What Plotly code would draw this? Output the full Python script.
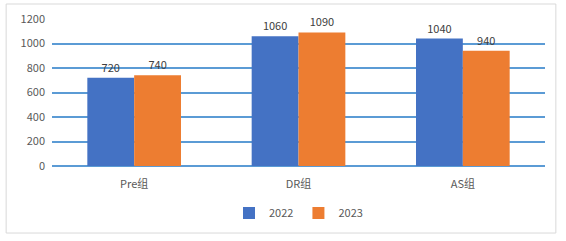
import plotly.graph_objects as go

categories = ["Pre组", "DR组", "AS组"]
series_names = ["2022", "2023"]
values_2022 = [720, 1060, 1040]
values_2023 = [740, 1090, 940]
y_ticks = [0, 200, 400, 600, 800, 1000, 1200]

colors = ["#4472C4", "#ED7D31"]
font_family = "Noto Sans CJK SC, Noto Sans, sans-serif"

fig = go.Figure()
for name, vals, col in zip(series_names, [values_2022, values_2023], colors):
    fig.add_trace(go.Bar(
        x=categories, y=vals, name=name, marker_color=col,
        marker_line_width=0,
        text=[str(v) for v in vals], textposition="outside",
        textfont=dict(size=11, color="#404040", family=font_family),
        cliponaxis=False,
    ))

fig.update_layout(
    width=566, height=241,
    margin=dict(l=52, r=21, t=19, b=75, autoexpand=False),
    paper_bgcolor="white", plot_bgcolor="white",
    barmode="group", bargap=0.43, bargroupgap=0,
    font=dict(family=font_family, size=11, color="#595959"),
    showlegend=True,
    legend=dict(orientation="h", x=0.5, xanchor="center",
                yref="container", y=0.116, yanchor="middle",
                font=dict(size=11, color="#595959"), itemwidth=30,
                traceorder="normal"),
    xaxis=dict(showgrid=False, showline=False, ticks="outside", ticklen=8,
               tickcolor="rgba(0,0,0,0)", tickfont=dict(size=11)),
    yaxis=dict(range=[0, 1200], tickvals=y_ticks, showgrid=True,
               gridcolor="#5B9BD5", gridwidth=1.5, zeroline=True,
               zerolinecolor="#5B9BD5", zerolinewidth=1.5,
               showline=False, ticks="", ticklabelstandoff=6,
               tickfont=dict(size=11)),
    shapes=[dict(type="rect", xref="paper", yref="paper",
                 x0=-0.093, x1=1.022, y0=-0.456, y1=1.102,
                 line=dict(color="#D9D9D9", width=1), fillcolor="rgba(0,0,0,0)",
                 layer="below")],
)

fig.write_html("out.html")
